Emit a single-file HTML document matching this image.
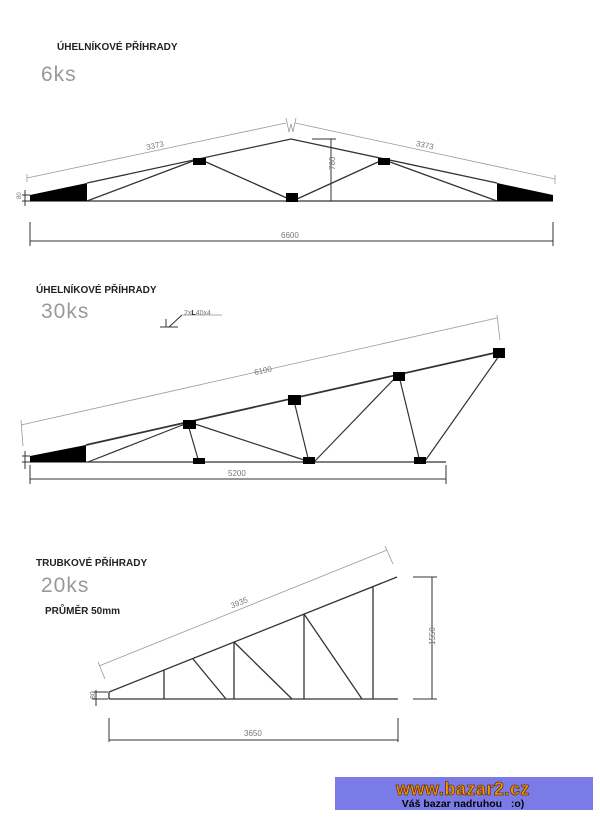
<!DOCTYPE html>
<html><head><meta charset="utf-8"><style>
body{margin:0;background:#fff;width:600px;height:820px;overflow:hidden}
svg{display:block}
text{font-family:"Liberation Sans",sans-serif}
</style></head><body>
<svg width="600" height="820" viewBox="0 0 600 820" xmlns="http://www.w3.org/2000/svg">
<g font-weight="bold" font-size="10" fill="#222">
<text x="57" y="50">ÚHELNÍKOVÉ PŘÍHRADY</text>
<text x="36" y="293">ÚHELNÍKOVÉ PŘÍHRADY</text>
<text x="36" y="566">TRUBKOVÉ PŘÍHRADY</text>
<text x="45" y="614">PRŮMĚR 50mm</text>
</g>
<g font-size="21" fill="#999">
<text x="41" y="81" letter-spacing="1">6ks</text>
<text x="41" y="318" letter-spacing="1">30ks</text>
<text x="41" y="592" letter-spacing="1">20ks</text>
</g>

<!-- Truss 1 -->
<g stroke="#333" stroke-width="1.3" fill="none">
<line x1="30" y1="201" x2="553" y2="201"/>
<polyline points="87,183 291,139 497,183"/>
<line x1="87" y1="201" x2="193" y2="161"/>
<line x1="206" y1="162" x2="289" y2="199"/>
<line x1="297" y1="199" x2="378" y2="162"/>
<line x1="390" y1="162" x2="497" y2="201"/>
</g>
<g fill="#000">
<polygon points="30,195 87,183 87,201 30,201"/>
<polygon points="497,183 553,195 553,201 497,201"/>
<rect x="193" y="158" width="13" height="7"/>
<rect x="378" y="158" width="12" height="7"/>
<rect x="286" y="193" width="12" height="9"/>
</g>
<g stroke="#999" stroke-width="0.8" fill="none">
<line x1="27" y1="178" x2="286" y2="123"/>
<line x1="295" y1="123" x2="555" y2="179"/>
<line x1="27" y1="174" x2="27" y2="182"/>
<line x1="555" y1="175" x2="555" y2="184"/>
<polyline points="286,118 289,132 291,124 293,132 296,118"/>
</g>
<g stroke="#333" stroke-width="1" fill="none">
<line x1="331" y1="139" x2="331" y2="201"/>
<line x1="312" y1="139" x2="336" y2="139"/>
<line x1="312" y1="201" x2="336" y2="201"/>
<line x1="30" y1="241" x2="553" y2="241"/>
<line x1="30" y1="222" x2="30" y2="246"/>
<line x1="553" y1="222" x2="553" y2="246"/>
<line x1="22" y1="195" x2="30" y2="195"/>
<line x1="22" y1="201" x2="30" y2="201"/>
<line x1="25" y1="190" x2="25" y2="206"/>
</g>
<g font-size="8" fill="#777">
<text x="146" y="148" transform="rotate(-12 156 145)">3373</text>
<text x="416" y="148" transform="rotate(12 426 145)">3373</text>
<text x="281" y="238">6600</text>
<text x="327" y="178" transform="rotate(-90 327 170)">780</text>
<text x="17" y="201" font-size="6" transform="rotate(-90 18 198)">80</text>
</g>

<!-- Truss 2 -->
<g stroke="#333" stroke-width="1.2" fill="none">
<line x1="30" y1="462" x2="446" y2="462"/>
<line x1="86" y1="445" x2="503" y2="351" stroke-width="1.8"/>
<line x1="88" y1="462" x2="185" y2="424"/>
<line x1="189" y1="428" x2="198" y2="459"/>
<line x1="195" y1="424" x2="307" y2="461"/>
<line x1="295" y1="405" x2="308" y2="458"/>
<line x1="315" y1="461" x2="396" y2="377"/>
<line x1="400" y1="380" x2="419" y2="458"/>
<line x1="425" y1="461" x2="499" y2="356"/>
</g>
<g fill="#000">
<polygon points="30,456 86,445 86,462 30,462"/>
<rect x="183" y="420" width="13" height="9"/>
<rect x="288" y="395" width="13" height="10"/>
<rect x="393" y="372" width="12" height="9"/>
<rect x="493" y="348" width="12" height="10"/>
<rect x="193" y="458" width="12" height="6"/>
<rect x="303" y="457" width="12" height="7"/>
<rect x="414" y="457" width="12" height="7"/>
</g>
<g stroke="#999" stroke-width="0.8" fill="none">
<line x1="21" y1="425" x2="497" y2="318"/>
<line x1="21" y1="420" x2="23" y2="446"/>
<line x1="497" y1="315" x2="500" y2="340"/>
</g>
<g stroke="#333" stroke-width="1" fill="none">
<line x1="30" y1="479" x2="446" y2="479"/>
<line x1="30" y1="465" x2="30" y2="484"/>
<line x1="446" y1="465" x2="446" y2="484"/>
<line x1="22" y1="456" x2="30" y2="456"/>
<line x1="22" y1="462" x2="30" y2="462"/>
<line x1="25" y1="451" x2="25" y2="469"/>
<line x1="160" y1="327" x2="178" y2="327"/>
<line x1="166" y1="319" x2="166" y2="327"/>
<line x1="169" y1="327" x2="182" y2="315"/>
<line x1="182" y1="315" x2="222" y2="315" stroke="#aaa"/>
</g>
<g font-size="8" fill="#777">
<text x="254" y="373" transform="rotate(-12 264 370)">6100</text>
<text x="228" y="476">5200</text>
<text x="184" y="315" font-size="7">2x<tspan font-weight="bold" fill="#222">L</tspan>40x4</text>
</g>

<!-- Truss 3 -->
<g stroke="#333" stroke-width="1.3" fill="none">
<line x1="109" y1="699" x2="398" y2="699"/>
<line x1="109" y1="692" x2="397" y2="577"/>
<line x1="109" y1="692" x2="109" y2="699"/>
<line x1="164" y1="670" x2="164" y2="699"/>
<line x1="234" y1="642" x2="234" y2="699"/>
<line x1="304" y1="614" x2="304" y2="699"/>
<line x1="373" y1="586" x2="373" y2="699"/>
<line x1="193" y1="659" x2="226" y2="699"/>
<line x1="234" y1="642" x2="292" y2="699"/>
<line x1="304" y1="614" x2="362" y2="699"/>
</g>
<g stroke="#999" stroke-width="0.8" fill="none">
<line x1="99" y1="666" x2="387" y2="550"/>
<line x1="98" y1="662" x2="105" y2="679"/>
<line x1="385" y1="546" x2="393" y2="564"/>
</g>
<g stroke="#333" stroke-width="1" fill="none">
<line x1="432" y1="577" x2="432" y2="699"/>
<line x1="413" y1="577" x2="437" y2="577"/>
<line x1="413" y1="699" x2="437" y2="699"/>
<line x1="109" y1="740" x2="398" y2="740"/>
<line x1="109" y1="718" x2="109" y2="742"/>
<line x1="398" y1="718" x2="398" y2="742"/>
<line x1="96" y1="690" x2="96" y2="706"/>
<line x1="92" y1="692" x2="108" y2="692"/>
<line x1="92" y1="699" x2="108" y2="699"/>
</g>
<g font-size="8" fill="#777">
<text x="230" y="605" transform="rotate(-22 240 602)">3935</text>
<text x="244" y="736">3650</text>
<text x="420" y="644" transform="rotate(-90 428 637)">1550</text>
<text x="88" y="700" font-size="7" transform="rotate(-90 91 696)">80</text>
</g>

<!-- Banner -->
<rect x="335" y="777" width="258" height="33" fill="#7b7be8"/>
<text x="463" y="795" text-anchor="middle" font-size="18" font-weight="bold" fill="#ff9900" stroke="#663300" stroke-width="0.8" letter-spacing="0.5">www.bazar2.cz</text>
<text x="463" y="807" text-anchor="middle" font-size="10.5" font-weight="bold" fill="#000">Váš bazar nadruhou &#160;&#160;:o)</text>
</svg>
</body></html>
